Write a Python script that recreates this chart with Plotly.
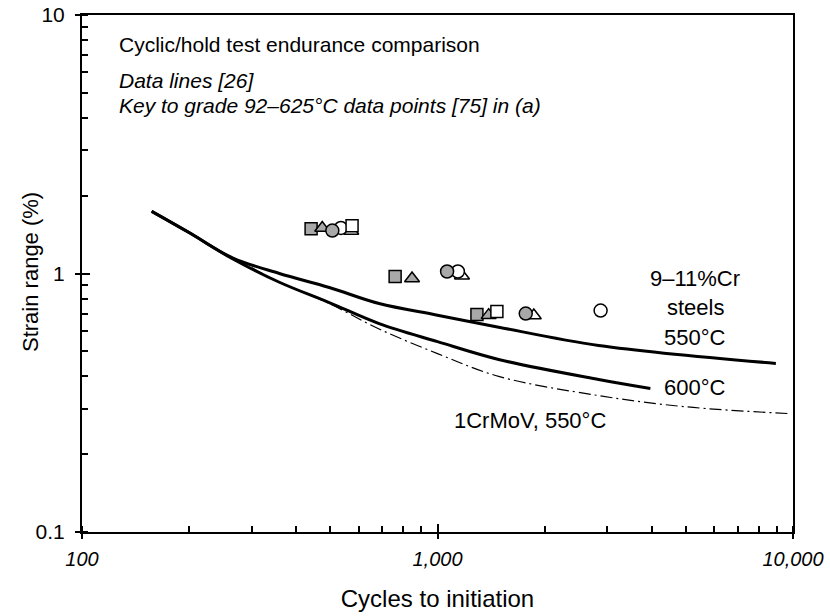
import plotly.graph_objects as go

# ---- data ----
cr_550_x = [157, 200, 265, 359, 496, 685, 1000, 1486, 2840, 8950]
cr_550_y = [1.74, 1.44, 1.15, 1.0, 0.883, 0.765, 0.69, 0.62, 0.527, 0.449]

cr_600_x = [157, 200, 265, 359, 496, 685, 1000, 1486, 2840, 3970]
cr_600_y = [1.74, 1.44, 1.14, 0.925, 0.772, 0.64, 0.545, 0.465, 0.389, 0.359]

crmov_x = [300, 359, 496, 685, 1000, 1486, 2840, 5000, 9800]
crmov_y = [1.055, 0.925, 0.765, 0.61, 0.49, 0.40, 0.337, 0.305, 0.287]

gray_sq_x = [441, 760, 1291]
gray_sq_y = [1.49, 0.973, 0.694]
gray_tri_x = [474, 848, 1393]
gray_tri_y = [1.50, 0.956, 0.69]
white_tri_x = [572, 1172, 1866]
white_tri_y = [1.46, 0.98, 0.688]
white_circ_x = [535, 1141, 2876]
white_circ_y = [1.50, 1.018, 0.719]
gray_circ_x = [506, 1064, 1771]
gray_circ_y = [1.466, 1.018, 0.70]
white_sq_x = [575, 1469]
white_sq_y = [1.53, 0.713]

x_tickvals = [100, 1000, 10000]
x_ticktext = ["100", "1,000", "10,000"]
y_tickvals = [0.1, 1, 10]
y_ticktext = ["0.1", "1", "10"]

FONT = "Liberation Sans, Arial, Helvetica, sans-serif"
GRAY = "#a8a8a8"

fig = go.Figure()

fig.add_trace(go.Scatter(x=crmov_x, y=crmov_y, mode="lines", line_shape="spline",
                         line=dict(color="black", width=1.2, dash="12px,4px,2px,4px"),
                         showlegend=False))
fig.add_trace(go.Scatter(x=cr_600_x, y=cr_600_y, mode="lines", line_shape="spline",
                         line=dict(color="black", width=3), showlegend=False))
fig.add_trace(go.Scatter(x=cr_550_x, y=cr_550_y, mode="lines", line_shape="spline",
                         line=dict(color="black", width=3), showlegend=False))

def pts(x, y, symbol, fill, size=13):
    fig.add_trace(go.Scatter(x=x, y=y, mode="markers", showlegend=False,
                             marker=dict(symbol=symbol, size=size, color=fill,
                                         line=dict(color="black", width=1.5))))

pts(gray_sq_x, gray_sq_y, "square", GRAY, 12)
pts(gray_tri_x, gray_tri_y, "triangle-up", GRAY, 13)
pts(white_tri_x, white_tri_y, "triangle-up", "white", 13)
pts(white_circ_x, white_circ_y, "circle", "white", 13)
pts(gray_circ_x, gray_circ_y, "circle", GRAY, 13)
pts(white_sq_x, white_sq_y, "square", "white", 12)

# overlay axes for the inside half of the major ticks
fig.add_trace(go.Scatter(x=[100, 10000], y=[0.1, 10], xaxis="x2", yaxis="y2",
                         mode="markers", marker=dict(opacity=0), showlegend=False,
                         hoverinfo="skip"))

fig.update_layout(
    width=830, height=616,
    margin=dict(l=82, r=37, t=15, b=84, autoexpand=False),
    paper_bgcolor="white", plot_bgcolor="white",
    font=dict(family=FONT, size=22, color="black"),
    xaxis=dict(type="log", range=[2, 4], showgrid=False, zeroline=False, automargin=False,
               showline=True, linecolor="black", linewidth=2, mirror=True,
               ticks="outside", ticklen=5, tickwidth=2, tickcolor="black",
               tickvals=x_tickvals, ticktext=x_ticktext,
               tickfont=dict(family=FONT, size=20, style="italic"),
               ticklabelstandoff=3,
               minor=dict(ticks="inside", ticklen=6, tickwidth=1.5, tickcolor="black",
                          dtick="D1", showgrid=False),
               title=dict(text="Cycles to initiation", font=dict(size=24), standoff=21)),
    yaxis=dict(type="log", range=[-1, 1], showgrid=False, zeroline=False, automargin=False,
               showline=True, linecolor="black", linewidth=2, mirror=True,
               ticks="outside", ticklen=5, tickwidth=2, tickcolor="black",
               tickvals=y_tickvals, ticktext=y_ticktext,
               tickfont=dict(family=FONT, size=21),
               ticklabelstandoff=6,
               minor=dict(ticks="inside", ticklen=6, tickwidth=1.5, tickcolor="black",
                          dtick="D1", showgrid=False)),
    xaxis2=dict(type="log", range=[2, 4], overlaying="x", anchor="y", side="bottom",
                showgrid=False, zeroline=False, showline=False, showticklabels=False,
                automargin=False,
                ticks="inside", ticklen=8, tickwidth=2, tickcolor="black",
                tickvals=x_tickvals),
    yaxis2=dict(type="log", range=[-1, 1], overlaying="y", anchor="x", side="left",
                showgrid=False, zeroline=False, showline=False, showticklabels=False,
                automargin=False,
                ticks="inside", ticklen=8, tickwidth=2, tickcolor="black",
                tickvals=y_tickvals),
)

def px2paper(px, py):
    return (px - 82) / 711.0, (532 - py) / 517.0

def note(text, px, py, xanchor="left", italic=False, size=21, angle=0):
    x, y = px2paper(px, py)
    fig.add_annotation(text=text, x=x, y=y, xref="paper", yref="paper",
                       xanchor=xanchor, yanchor="middle", showarrow=False,
                       textangle=angle,
                       font=dict(family=FONT, size=size, color="black",
                                 style="italic" if italic else "normal"))

note("Strain range (%)", 30, 272, xanchor="center", size=22, angle=-90)
note("Cyclic/hold test endurance comparison", 117, 45)
note("Data lines [26]", 117, 80, italic=True)
note("Key to grade 92–625°C data points [75] in (a)", 117, 105, italic=True)
note("9–11%Cr", 695, 278, xanchor="center", size=22)
note("steels", 695, 307, xanchor="center", size=22)
note("550°C", 695, 337, xanchor="center", size=22)
note("600°C", 695, 387, xanchor="center", size=22)
note("1CrMoV, 550°C", 530, 420, xanchor="center", size=22)

fig.write_html("out.html")
